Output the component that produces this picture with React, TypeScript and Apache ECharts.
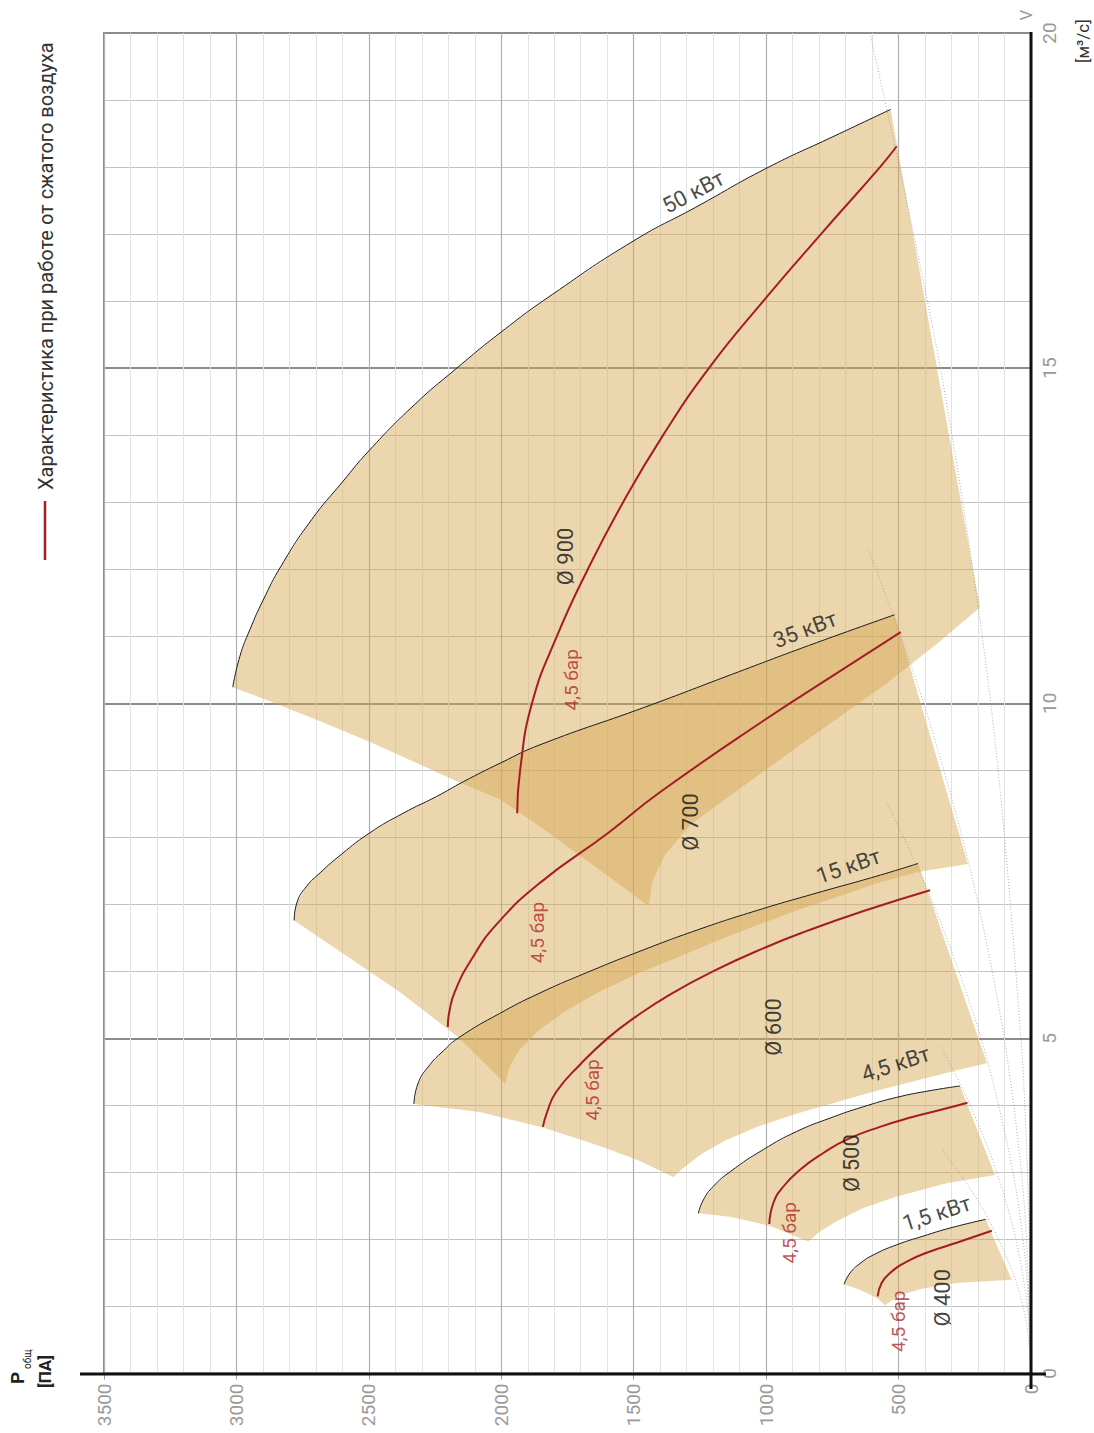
import React, { useEffect, useRef } from "react";
import * as echarts from "echarts";

// ---------- DATA (pressure P in Pa, volume flow V in m³/s) ----------
// Ø900
const fan900Power = [[3014, 10.24], [2987, 10.7], [2949, 11.1], [2899, 11.54], [2831, 12.05], [2716, 12.74], [2600, 13.3], [2499, 13.77], [2329, 14.45], [2174, 14.98], [2000, 15.54], [1807, 16.1], [1500, 16.9], [1266, 17.4], [1000, 17.98], [744, 18.46], [530, 18.86]];
const fan900Air = [[507, 18.31], [570, 18], [793, 17], [1011, 16], [1216, 15], [1389, 14], [1540, 13], [1673, 12], [1790, 11], [1884, 10], [1929, 9], [1940, 8.36]];
const fan900Bottom = [[193, 11.43], [357, 10.88], [550, 10.28], [744, 9.74], [937, 9.19], [1130, 8.64], [1285, 8.19], [1382, 7.74], [1430, 7.34], [1443, 6.97], [1614, 7.47], [1854, 8.16], [2002, 8.56], [2181, 8.86], [2500, 9.43], [2677, 9.72], [2886, 10.05]];
// Ø700
const fan700Power = [[2782, 6.76], [2772, 7.02], [2735, 7.27], [2684, 7.47], [2621, 7.69], [2499, 8.06], [2370, 8.36], [2244, 8.61], [2143, 8.83], [2002, 9.11], [1854, 9.38], [1459, 9.94], [1130, 10.43], [840, 10.86], [515, 11.32]];
const fan700Air = [[492, 11.06], [752, 10.4], [1006, 9.75], [1405, 8.66], [1598, 8.06], [1854, 7.32], [2018, 6.7], [2114, 6.17], [2175, 5.7], [2196, 5.4], [2202, 5.17]];
const fan700Bottom = [[238, 7.6], [433, 7.48], [583, 7.31], [733, 7.11], [883, 6.91], [1033, 6.69], [1183, 6.46], [1333, 6.21], [1483, 5.97], [1633, 5.69], [1753, 5.42], [1858, 5.12], [1933, 4.82], [1970, 4.57], [1985, 4.32], [2157, 5.0], [2382, 5.69]];
// Ø600
const fan600Power = [[2330, 4.02], [2315, 4.32], [2277, 4.57], [2217, 4.82], [2157, 5.02], [2007, 5.37], [1858, 5.67], [1678, 5.98], [1483, 6.29], [1258, 6.62], [1033, 6.91], [808, 7.17], [583, 7.42], [426, 7.61]];
const fan600Air = [[381, 7.21], [632, 6.9], [848, 6.6], [1001, 6.36], [1201, 6.0], [1365, 5.65], [1493, 5.32], [1599, 5.0], [1705, 4.6], [1793, 4.2], [1827, 3.9], [1843, 3.68]];
const fan600Bottom = [[166, 4.63], [283, 4.52], [583, 4.22], [883, 3.88], [1033, 3.68], [1153, 3.48], [1243, 3.28], [1303, 3.1], [1351, 2.93], [1483, 3.18], [1633, 3.4], [1843, 3.67], [2082, 3.9]];
// Ø500
const fan500Power = [[1256, 2.39], [1237, 2.59], [1200, 2.79], [1136, 3.01], [1011, 3.34], [885, 3.61], [759, 3.81], [633, 3.98], [507, 4.12], [381, 4.22], [268, 4.29]];
const fan500Air = [[240, 4.04], [344, 3.93], [444, 3.83], [570, 3.68], [696, 3.49], [784, 3.29], [872, 3.04], [935, 2.79], [973, 2.54], [988, 2.23]];
const fan500Bottom = [[136, 2.96], [318, 2.84], [507, 2.64], [633, 2.47], [734, 2.27], [797, 2.12], [841, 1.97], [985, 2.2], [1136, 2.34]];
// Ø400
const fan400Power = [[706, 1.33], [683, 1.5], [646, 1.64], [595, 1.77], [507, 1.92], [407, 2.05], [306, 2.17], [171, 2.3]];
const fan400Air = [[148, 2.13], [281, 1.95], [381, 1.82], [469, 1.67], [532, 1.5], [564, 1.35], [579, 1.15]];
const fan400Bottom = [[73, 1.4], [281, 1.35], [407, 1.27], [495, 1.17], [551, 1.02], [579, 1.12], [646, 1.25]];

// system (network) curves, dotted
const system1 = [[608, 20], [342, 15], [152, 10], [38, 5], [9.5, 2.5], [0, 0]];
const system2 = [[613, 12.3], [405, 10], [228, 7.5], [101, 5], [25, 2.5], [0, 0]];
const system3 = [[542, 8.5], [368, 7], [188, 5], [68, 3], [17, 1.5], [0, 0]];
const system4 = [[339, 4.87], [229, 4], [129, 3], [57, 2], [14, 1], [0, 0]];
const system5 = [[337, 3.35], [188, 2.5], [68, 1.5], [17, 0.75], [0, 0]];

// labels
const fanNames = ["Ø 900", "Ø 700", "Ø 600", "Ø 500", "Ø 400"];
const fanNamePos = [[1756, 12.19], [1287, 8.23], [974, 5.17], [676, 3.14], [336, 1.13]];
const powerNames = ["50 кВт", "35 кВт", "15 кВт", "4,5 кВт", "1,5 кВт"];
const powerNamePos = [[1275, 17.63], [853, 11.1], [689, 7.57], [511, 4.62], [356, 2.39]];
const powerNameAngle = [28, 21, 19, 18, 18];
const airName = "4,5 бар";
const airNamePos = [[1735, 10.35], [1865, 6.58], [1657, 4.23], [910, 2.1], [500, 0.78]];
const legendText = "Характеристика при работе от сжатого воздуха";

// ---------- STYLE ----------
const FILL = "rgba(215,168,82,0.47)";
const RED = "#a51d24";
const FONT = "Roboto";

const fans = [
  { power: fan900Power, air: fan900Air, bottom: fan900Bottom },
  { power: fan700Power, air: fan700Air, bottom: fan700Bottom },
  { power: fan600Power, air: fan600Air, bottom: fan600Bottom },
  { power: fan500Power, air: fan500Air, bottom: fan500Bottom },
  { power: fan400Power, air: fan400Air, bottom: fan400Bottom },
];

function buildOption() {
  const series: any[] = [];
  fans.forEach((f, i) => {
    const poly = f.power.concat(f.bottom);
    series.push({
      type: "custom",
      name: "region" + i,
      silent: true,
      z: 1,
      data: [poly[0]],
      encode: { x: 0, y: 1 },
      renderItem: (_p: any, api: any) => ({
        type: "polygon",
        shape: { points: poly.map((pt) => api.coord(pt)) },
        style: { fill: FILL },
      }),
    });
  });
  [system1, system2, system3, system4, system5].forEach((s) => {
    series.push({
      type: "line",
      data: s,
      smooth: 0.3,
      symbol: "none",
      silent: true,
      z: 2,
      lineStyle: { color: "#9a9a9a", width: 0.8, type: [1, 2] },
    });
  });
  fans.forEach((f) => {
    series.push({
      type: "line",
      data: f.power,
      smooth: 0.5,
      symbol: "none",
      silent: true,
      z: 3,
      lineStyle: { color: "#1a1a1a", width: 1 },
    });
    series.push({
      type: "line",
      data: f.air,
      smooth: 0.5,
      symbol: "none",
      silent: true,
      z: 4,
      lineStyle: { color: RED, width: 2 },
    });
  });
  const labelData: any[] = [];
  fanNames.forEach((t, i) =>
    labelData.push({
      value: fanNamePos[i],
      label: { show: true, position: "inside", formatter: t, rotate: 90, color: "#111", fontSize: 22, fontFamily: FONT },
    })
  );
  powerNames.forEach((t, i) =>
    labelData.push({
      value: powerNamePos[i],
      label: { show: true, position: "inside", formatter: t, rotate: powerNameAngle[i], color: "#1a1a1a", fontSize: 22, fontFamily: FONT },
    })
  );
  airNamePos.forEach((p) =>
    labelData.push({
      value: p,
      label: { show: true, position: "inside", formatter: airName, rotate: 90, color: "#b0282c", fontSize: 19, fontFamily: FONT },
    })
  );
  series.push({
    type: "scatter",
    data: labelData,
    symbolSize: 1,
    itemStyle: { color: "rgba(0,0,0,0)" },
    silent: true,
    z: 10,
  });

  return {
    animation: false,
    backgroundColor: "#ffffff",
    grid: { left: 104, right: 63, top: 33, bottom: 59.5, show: true, borderColor: "#8a8a8a", borderWidth: 2, backgroundColor: "transparent" },
    xAxis: {
      type: "value",
      min: 0,
      max: 3500,
      interval: 500,
      inverse: true,
      position: "bottom",
      axisLine: { show: false },
      axisTick: { show: true, length: 6, lineStyle: { color: "#999", width: 1 } },
      axisLabel: { rotate: 90, color: "#9a9a9a", fontSize: 19, fontFamily: FONT, margin: 10, formatter: (v: number) => String(v) },
      splitLine: { show: true, lineStyle: { color: "#b0b0b0", width: 1.2 } },
      minorTick: { show: false, splitNumber: 5 },
      minorSplitLine: { show: true, lineStyle: { color: "#e2e2e2", width: 1 } },
    },
    yAxis: {
      type: "value",
      min: 0,
      max: 20,
      interval: 5,
      position: "right",
      axisLine: { show: false },
      axisTick: { show: false },
      axisLabel: { rotate: 90, color: "#9a9a9a", fontSize: 19, fontFamily: FONT, margin: 9, formatter: (v: number) => String(v) },
      splitLine: { show: true, lineStyle: { color: "#8c8c8c", width: 2 } },
      minorTick: { show: false, splitNumber: 5 },
      minorSplitLine: { show: true, lineStyle: { color: "#c2c2c2", width: 1 } },
    },
    graphic: [
      { type: "line", z: 50, shape: { x1: 80, y1: 1374, x2: 1046, y2: 1374 }, style: { stroke: "#111", lineWidth: 3 } },
      { type: "line", z: 50, shape: { x1: 1031, y1: 32, x2: 1031, y2: 1389 }, style: { stroke: "#111", lineWidth: 3 } },
      { type: "line", z: 50, shape: { x1: 45, y1: 501, x2: 45, y2: 560 }, style: { stroke: RED, lineWidth: 2.5 } },
      {
        type: "text", z: 50, x: 46, y: 490, rotation: Math.PI / 2,
        style: { text: legendText, fill: "#333", fontSize: 20, fontFamily: FONT, align: "left", verticalAlign: "middle" },
      },
      {
        type: "text", z: 50, x: 17, y: 1384, rotation: Math.PI / 2,
        style: { text: "P", fill: "#222", fontSize: 19, fontWeight: "bold", fontFamily: FONT, align: "left", verticalAlign: "middle" },
      },
      {
        type: "text", z: 50, x: 27, y: 1369, rotation: Math.PI / 2,
        style: { text: "общ", fill: "#222", fontSize: 10, fontFamily: FONT, align: "left", verticalAlign: "middle" },
      },
      {
        type: "text", z: 50, x: 45, y: 1388, rotation: Math.PI / 2,
        style: { text: "[ПА]", fill: "#222", fontSize: 17, fontWeight: "bold", fontFamily: FONT, align: "left", verticalAlign: "middle" },
      },
      {
        type: "text", z: 50, x: 1026, y: 15, rotation: Math.PI / 2,
        style: { text: "V", fill: "#9a9a9a", fontSize: 17, fontFamily: FONT, align: "center", verticalAlign: "middle" },
      },
      {
        type: "text", z: 50, x: 1083, y: 63, rotation: Math.PI / 2,
        style: { text: "[м³/с]", fill: "#333", fontSize: 17, fontFamily: FONT, align: "left", verticalAlign: "middle" },
      },
    ],
    series,
  };
}

export default function App() {
  const ref = useRef<HTMLDivElement>(null);
  useEffect(() => {
    document.body.style.margin = "0";
    const chart = echarts.init(ref.current as HTMLDivElement, null, { renderer: "svg" });
    chart.setOption(buildOption() as any);
    return () => chart.dispose();
  }, []);
  return <div ref={ref} style={{ width: 1094, height: 1433 }} />;
}
